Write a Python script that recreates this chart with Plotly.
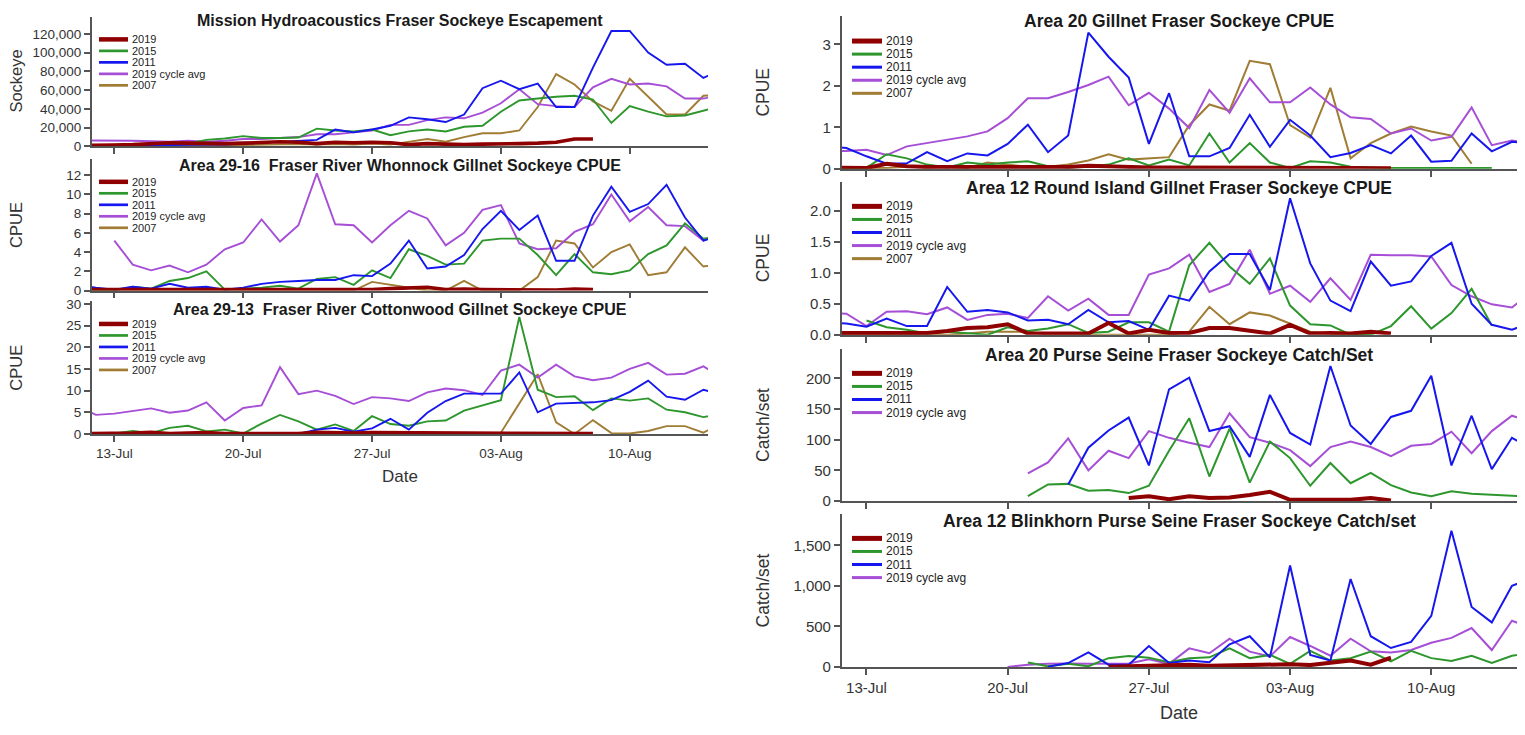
import plotly.graph_objects as go
import pandas as pd

N = None
# one value per day, 11-Jul .. 15-Aug (36 days)
dates = pd.date_range("2019-07-11", "2019-08-15", freq="D")

series_names = ["2019", "2015", "2011", "2019 cycle avg", "2007"]
tick_dates = ["2019-07-13", "2019-07-20", "2019-07-27", "2019-08-03", "2019-08-10"]
tick_labels = ["13-Jul", "20-Jul", "27-Jul", "03-Aug", "10-Aug"]

# ---- Mission Hydroacoustics escapement (sockeye) ----
mission_2019 = [1000, 1000, 1500, 2000, 3000, 4000, 3500, 3000, 3000, 3500,
                4000, 5000, 4500, 3000, 4500, 4000, 4500, 4000, 2000, 3000,
                2500, 2000, 2500, 2500, 3000, 3500, 4500, 8000, 8000, N,
                N, N, N, N, N, N]
mission_2015 = [1000, 1500, 2000, 2500, 2500, 2000, 3000, 7000, 8500, 11000,
                9000, 9000, 9500, 19000, 17000, 16000, 18000, 12000, 16000, 18000,
                16000, 21000, 22000, 37000, 49000, 51000, 53000, 54000, 50000, 25000,
                43000, 37000, 32000, 33000, 38000, 43000]
mission_2011 = [0, 500, 1000, 1000, 1500, 1500, 2000, 2000, 2000, 3000,
                4000, 5000, 6000, 7000, 18000, 15000, 18000, 22000, 31000, 29000,
                26000, 34000, 62000, 70000, 61000, 67000, 42000, 42000, 84000, 123000,
                123000, 100000, 87000, 88000, 73000, 82000]
mission_cycle = [6500, 6500, 6500, 6000, 5500, 5000, 6000, 5000, 6000, 8000,
                 8000, 9000, 10000, 13000, 13000, 15000, 17000, 23000, 23000, 28000,
                 31000, 30000, 36000, 46000, 61000, 45000, 43000, 42000, 63000, 72000,
                 66000, 67000, 64000, 51000, 51000, 55000]
mission_2007 = [0, 0, 0, 500, 1000, 1000, 500, 1000, 1000, 1500,
                2000, 2000, 2500, 2000, 2500, 2000, 3000, 2000, 5000, 8000,
                5000, 10000, 14000, 14000, 17000, 42000, 77000, 66000, 48000, 38000,
                72000, 53000, 34000, 34000, 54000, 55000]

# ---- Area 29-16 Whonnock gillnet CPUE ----
whonnock_2019 = [0.1, 0.1, 0.05, 0.05, 0.05, 0.05, 0.05, 0.05, 0.05, 0.05,
                 0.05, 0.05, 0.05, 0.05, 0.05, 0.05, 0.1, 0.2, 0.3, 0.35,
                 0.1, 0.15, 0.1, 0.1, 0.05, 0.05, 0.05, 0.15, 0.1, N,
                 N, N, N, N, N, N]
whonnock_2015 = [0.0, 0.0, 0.0, 0.4, 0.2, 1.0, 1.3, 2.0, 0.1, 0.2,
                 0.3, 0.5, 0.2, 1.2, 1.4, 0.6, 2.1, 1.3, 4.3, 3.6,
                 2.7, 2.8, 5.2, 5.4, 5.4, 3.7, 1.6, 3.8, 1.9, 1.7,
                 2.1, 3.8, 4.7, 7.0, 5.4, 5.7]
whonnock_2011 = [0.6, 0.3, 0.1, 0.4, 0.2, 0.7, 0.3, 0.4, 0.1, 0.3,
                 0.7, 0.9, 1.0, 1.1, 1.1, 1.6, 1.5, 2.8, 5.2, 2.3,
                 2.5, 3.7, 6.4, 8.3, 6.3, 7.8, 3.1, 3.1, 7.8, 10.8,
                 8.2, 9.0, 11.0, 7.6, 5.2, 5.8]
whonnock_cycle = [N, N, 5.2, 2.7, 2.1, 2.6, 1.9, 2.7, 4.3, 5.0,
                  7.4, 5.1, 6.8, 12.2, 6.9, 6.8, 5.0, 6.8, 8.3, 7.5,
                  4.7, 6.0, 8.4, 8.9, 4.9, 4.3, 4.4, 6.1, 6.9, 10.0,
                  7.2, 8.7, 6.8, 6.7, 5.2, 6.2]
whonnock_2007 = [0, 0, 0, 0, 0, 0, 0, 0, 0, 0,
                 0, 0, 0, 0, 0, 0, 0.9, 0.6, 0.3, 0.0,
                 0.0, 1.0, 0.0, 0.0, 0.0, 1.4, 5.2, 4.9, 2.4, 4.0,
                 4.8, 1.6, 1.9, 4.5, 2.5, 2.8]

# ---- Area 29-13 Cottonwood gillnet CPUE ----
cotton_2019 = [0.1, 0.1, 0.1, 0.2, 0.4, 0.1, 0.2, 0.3, 0.1, 0.1,
               0.1, 0.1, 0.1, 0.4, 0.2, 0.2, 0.3, 0.3, 0.1, 0.1,
               0.2, 0.1, 0.1, 0.1, 0.1, 0.1, 0.1, 0.1, 0.1, N,
               N, N, N, N, N, N]
cotton_2015 = [0.0, 0.0, 0.1, 0.7, 0.2, 1.4, 1.9, 0.6, 1.0, 0.1,
               2.4, 4.4, 2.9, 1.0, 2.2, 0.7, 4.1, 2.3, 1.9, 2.9,
               3.1, 5.4, 6.6, 7.8, 27.0, 10.2, 8.5, 8.7, 5.5, 8.2,
               7.7, 8.2, 5.6, 5.0, 3.9, 4.6]
cotton_2011 = [0, 0, 0, 0, 0, 0, 0, 0, 0, 0,
               0, 0, 0, 1.0, 1.4, 0.5, 1.3, 3.5, 1.0, 4.9,
               7.6, 9.3, 9.3, 9.3, 14.2, 5.0, 7.0, 7.2, 7.3, 7.8,
               9.7, 12.3, 8.6, 7.9, 10.2, 9.0]
cotton_cycle = [6.5, 4.4, 4.7, 5.3, 5.9, 4.9, 5.4, 7.3, 3.1, 6.0,
                6.6, 15.4, 9.2, 10.0, 8.8, 6.9, 8.5, 8.2, 7.6, 9.6,
                10.5, 10.1, 9.0, 14.6, 16.0, 13.0, 16.0, 13.3, 12.4, 13.0,
                15.0, 16.4, 13.7, 13.9, 15.6, 13.0]
cotton_2007 = [0, 0, 0, 0, 0, 0, 0, 0, 0, 0,
               0, 0, 0, 0, 0, 0, 0, 0, 0, 0,
               0, 0, 0, 0.3, 7.0, 13.8, 2.7, 0.0, 3.2, 0.2,
               0.1, 0.7, 1.8, 1.8, 0.3, 2.5]

# ---- Area 20 gillnet CPUE ----
a20g_2019 = [0.03, 0.03, 0.02, 0.12, 0.06, 0.04, 0.04, 0.03, 0.04, 0.03,
             0.03, 0.04, 0.04, 0.07, 0.05, 0.03, 0.03, 0.03, 0.03, 0.04,
             0.03, 0.03, 0.02, 0.02, 0.02, 0.02, 0.02, 0.01, 0.01, N,
             N, N, N, N, N, N]
a20g_2015 = [0.0, 0.0, 0.02, 0.35, 0.25, 0.1, 0.03, 0.15, 0.1, 0.15,
             0.18, 0.06, 0.03, 0.05, 0.1, 0.25, 0.08, 0.22, 0.08, 0.85,
             0.15, 0.62, 0.15, 0.02, 0.18, 0.15, 0.05, 0.03, 0.02, 0.02,
             0.02, 0.02, 0.02, 0.02, N, N]
a20g_2011 = [0.55, 0.5, 0.3, 0.12, 0.13, 0.4, 0.18, 0.37, 0.32, 0.6,
             1.06, 0.4, 0.8, 3.28, 2.7, 2.2, 0.6, 1.82, 0.3, 0.3,
             0.5, 1.3, 0.53, 1.18, 0.8, 0.28, 0.38, 0.57, 0.37, 0.8,
             0.17, 0.19, 0.85, 0.42, 0.65, 0.6]
a20g_cycle = [0.43, 0.43, 0.46, 0.33, 0.54, 0.62, 0.7, 0.78, 0.9, 1.22,
              1.7, 1.7, 1.85, 2.02, 2.22, 1.53, 1.83, 1.45, 0.98, 1.9,
              1.35, 2.18, 1.6, 1.6, 1.96, 1.55, 1.24, 1.2, 0.85, 0.97,
              0.68, 0.77, 1.48, 0.57, 0.68, 0.6]
a20g_2007 = [0, 0, 0.02, 0.02, 0.05, 0.03, 0.05, 0.02, 0.15, 0.1,
             0.05, 0.05, 0.1, 0.2, 0.35, 0.22, 0.25, 0.28, 1.05, 1.55,
             1.4, 2.6, 2.52, 1.05, 0.75, 1.95, 0.25, 0.62, 0.85, 1.02,
             0.9, 0.8, 0.12, N, N, N]

# ---- Area 12 Round Island gillnet CPUE ----
a12g_2019 = [0.03, 0.03, 0.02, 0.03, 0.03, 0.03, 0.06, 0.11, 0.12, 0.17,
             0.02, 0.02, 0.02, 0.02, 0.19, 0.02, 0.08, 0.03, 0.03, 0.11,
             0.11, 0.06, 0.02, 0.16, 0.02, 0.03, 0.02, 0.05, 0.02, N,
             N, N, N, N, N, N]
a12g_2015 = [N, N, 0.23, 0.12, 0.08, 0.02, 0.05, 0.03, 0.0, 0.12,
             0.06, 0.1, 0.17, 0.03, 0.05, 0.2, 0.2, 0.05, 1.12, 1.48,
             1.1, 0.82, 1.23, 0.47, 0.17, 0.15, 0.0, 0.0, 0.14, 0.46,
             0.1, 0.35, 0.74, 0.15, N, N]
a12g_2011 = [0.2, 0.18, 0.13, 0.26, 0.14, 0.14, 0.77, 0.37, 0.4, 0.36,
             0.23, 0.24, 0.17, 0.4, 0.2, 0.22, 0.08, 0.63, 0.55, 1.02,
             1.3, 1.3, 0.72, 2.2, 1.15, 0.55, 0.38, 1.18, 0.79, 0.86,
             1.27, 1.48, 0.5, 0.16, 0.08, 0.2]
a12g_cycle = [0.35, 0.34, 0.14, 0.37, 0.38, 0.33, 0.44, 0.24, 0.32, 0.34,
              0.27, 0.62, 0.39, 0.58, 0.32, 0.32, 0.97, 1.07, 1.29, 0.69,
              0.82, 1.37, 0.66, 0.79, 0.53, 0.91, 0.56, 1.29, 1.28, 1.28,
              1.26, 0.8, 0.62, 0.49, 0.44, 0.7]
a12g_2007 = [0, 0, 0, 0, 0, 0, 0, 0.02, 0.05, 0.05,
             0.05, 0.0, 0.0, 0.0, 0.0, 0.0, 0.0, 0.0, 0.05, 0.45,
             0.17, 0.36, 0.31, 0.18, 0.05, 0.02, 0.0, 0.0, N, N,
             N, N, N, N, N, N]

# ---- Area 20 purse seine catch/set ----
a20s_2019 = [N, N, N, N, N, N, N, N, N, N,
             N, N, N, N, N, 5, 8, 3, 8, 5,
             6, 10, 15, 2, 2, 2, 2, 5, 1, N,
             N, N, N, N, N, N]
a20s_2015 = [N, N, N, N, N, N, N, N, N, N,
             8, 27, 28, 17, 18, 13, 25, 82, 135, 40,
             118, 30, 97, 70, 25, 62, 29, 46, 26, 14,
             8, 16, 12, 10, 8, 7]
a20s_2011 = [N, N, N, N, N, N, N, N, N, N,
             N, N, 27, 87, 115, 136, 58, 182, 201, 114,
             122, 72, 173, 111, 92, 220, 123, 93, 137, 147,
             204, 58, 139, 52, 103, 85]
a20s_cycle = [N, N, N, N, N, N, N, N, N, N,
              45, 63, 102, 50, 82, 70, 114, 103, 95, 88,
              143, 104, 95, 83, 57, 88, 97, 88, 73, 90,
              93, 113, 78, 114, 139, 128]

# ---- Area 12 Blinkhorn purse seine catch/set ----
a12s_2019 = [N, N, N, N, N, N, N, N, N, N,
             N, N, N, N, 5, 10, 10, 15, 30, 15,
             20, 15, 20, 35, 25, 50, 80, 30, 115, N,
             N, N, N, N, N, N]
a12s_2015 = [N, N, N, N, N, N, N, N, N, N,
             55, 10, 40, 10, 110, 135, 115, 60, 110, 120,
             230, 110, 150, 40, 200, 80, 110, 190, 70, 200,
             110, 75, 140, 50, 140, 175]
a12s_2011 = [N, N, N, N, N, N, N, N, N, N,
             N, 5, 50, 180, 30, 30, 260, 50, 80, 60,
             280, 380, 120, 1250, 150, 80, 1085, 380, 235, 310,
             630, 1680, 740, 550, 1000, 1100]
a12s_cycle = [N, N, N, N, N, N, N, N, N, 0,
              30, 40, 45, 40, 45, 45, 95, 40, 230, 170,
              350, 190, 130, 370, 260, 140, 350, 195, 180, 210,
              300, 360, 480, 210, 570, 480]

# ---------------- styling / layout ----------------
W, H = 1525, 735
FONT = "Liberation Sans, Arial, Helvetica, sans-serif"
colors = {"2019": "#8f0000", "2015": "#2d962d", "2011": "#1616ee",
          "2019 cycle avg": "#a64fd6", "2007": "#a07c35"}
draw_order = ["2007", "2019 cycle avg", "2015", "2011", "2019"]


def fx(px):
    return px / W


def fy(py):
    return 1 - py / H


cols = {
    "L": dict(x0=91.7, x1=708.0, title=16, tick=13.5, leg=11, axt=16.5, lsp=11.7, lfirst=23,
              lx0=99, lx1=128, ltx=130, ytx=16, lw_main=3.6, lw=1.9, klw_main=4.5, klw=2.7),
    "R": dict(x0=841.7, x1=1517.0, title=17.5, tick=15, leg=12, axt=17.5, lsp=13.3, lfirst=25,
              lx0=852, lx1=882, ltx=884, ytx=763, lw_main=4, lw=2, klw_main=5, klw=3),
}

panels = [
    dict(col="L", top=12, zero=144.0, ref=(29.3, 120000), dtick=20000, fmt=",d",
         title="Mission Hydroacoustics Fraser Sockeye Escapement", ty=16, ytitle="Sockeye",
         data={"2019": mission_2019, "2015": mission_2015, "2011": mission_2011,
               "2019 cycle avg": mission_cycle, "2007": mission_2007}, labels=False),
    dict(col="L", top=157, zero=290.7, ref=(173.3, 12), dtick=2, fmt="d",
         title="Area 29-16 \u00a0Fraser River Whonnock Gillnet Sockeye CPUE", ty=163, ytitle="CPUE",
         data={"2019": whonnock_2019, "2015": whonnock_2015, "2011": whonnock_2011,
               "2019 cycle avg": whonnock_cycle, "2007": whonnock_2007}, labels=False),
    dict(col="L", top=301.7, zero=436.7, ref=(304.3, 30), dtick=5, fmt="d",
         title="Area 29-13 \u00a0Fraser River Cottonwood Gillnet Sockeye CPUE", ty=310, ytitle="CPUE",
         data={"2019": cotton_2019, "2015": cotton_2015, "2011": cotton_2011,
               "2019 cycle avg": cotton_cycle, "2007": cotton_2007}, labels=True, xt=480),
    dict(col="R", top=11.7, zero=166.7, ref=(40, 3), dtick=1, fmt="d",
         title="Area 20 Gillnet Fraser Sockeye CPUE", ty=16.7, ytitle="CPUE",
         data={"2019": a20g_2019, "2015": a20g_2015, "2011": a20g_2011,
               "2019 cycle avg": a20g_cycle, "2007": a20g_2007}, labels=False),
    dict(col="R", top=180, zero=335.7, ref=(209.3, 2.0), dtick=0.5, fmt=".1f",
         title="Area 12 Round Island Gillnet Fraser Sockeye CPUE", ty=186.7, ytitle="CPUE",
         data={"2019": a12g_2019, "2015": a12g_2015, "2011": a12g_2011,
               "2019 cycle avg": a12g_cycle, "2007": a12g_2007}, labels=False),
    dict(col="R", top=350, zero=505, ref=(380, 200), dtick=50, fmt="d",
         title="Area 20 Purse Seine Fraser Sockeye Catch/Set", ty=356.7, ytitle="Catch/set",
         data={"2019": a20s_2019, "2015": a20s_2015, "2011": a20s_2011,
               "2019 cycle avg": a20s_cycle}, labels=False),
    dict(col="R", top=518, zero=674, ref=(550, 1500), dtick=500, fmt=",d",
         title="Area 12 Blinkhorn Purse Seine Fraser Sockeye Catch/set", ty=525, ytitle="Catch/set",
         data={"2019": a12s_2019, "2015": a12s_2015, "2011": a12s_2011,
               "2019 cycle avg": a12s_cycle}, labels=True, xt=721),
]

fig = go.Figure()
layout = dict(width=W, height=H, margin=dict(l=0, r=0, t=0, b=0),
              paper_bgcolor="white", plot_bgcolor="white", showlegend=False,
              font=dict(family=FONT, color="#333333"))
annotations = []
shapes = []

for i, p in enumerate(panels, start=1):
    c = cols[p["col"]]
    xa = "x" if i == 1 else f"x{i}"
    ya = "y" if i == 1 else f"y{i}"
    ppu = (p["zero"] - p["ref"][0]) / p["ref"][1]
    ymax = (p["zero"] - p["top"]) / ppu

    for name in draw_order:
        if name not in p["data"]:
            continue
        fig.add_trace(go.Scatter(
            x=dates, y=p["data"][name], mode="lines", name=name, xaxis=xa, yaxis=ya,
            line=dict(color=colors[name], width=c["lw_main"] if name == "2019" else c["lw"]),
            hoverinfo="skip", connectgaps=False))

    layout["xaxis" if i == 1 else f"xaxis{i}"] = dict(
        domain=[fx(c["x0"]), fx(c["x1"])], anchor=ya, type="date",
        range=["2019-07-11 18:30", "2019-08-14 06:00"],
        tickvals=tick_dates, ticktext=tick_labels, showticklabels=p["labels"],
        ticks="outside", ticklen=6, tickwidth=1.5, tickcolor="#555555",
        showline=True, linecolor="#555555", linewidth=1.5,
        showgrid=False, zeroline=False, fixedrange=True,
        tickfont=dict(size=c["tick"], color="#333333", family=FONT))
    layout["yaxis" if i == 1 else f"yaxis{i}"] = dict(
        domain=[fy(p["zero"]), fy(p["top"])], anchor=xa, range=[0, ymax],
        dtick=p["dtick"], tick0=0, tickformat=p["fmt"],
        ticks="outside", ticklen=6, tickwidth=1.5, tickcolor="#555555",
        showline=True, linecolor="#555555", linewidth=1.5,
        showgrid=False, zeroline=False, fixedrange=True,
        tickfont=dict(size=c["tick"], color="#333333", family=FONT))

    # panel title
    annotations.append(dict(
        text=f"<b>{p['title']}</b>", x=fx((c["x0"] + c["x1"]) / 2), y=fy(p["ty"]),
        xref="paper", yref="paper", xanchor="center", yanchor="middle", showarrow=False,
        font=dict(size=c["title"], color="#1a1a1a", family=FONT)))
    # y-axis title
    annotations.append(dict(
        text=p["ytitle"], x=fx(c["ytx"]), y=fy((p["top"] + p["zero"]) / 2),
        xref="paper", yref="paper", xanchor="center", yanchor="middle", showarrow=False,
        textangle=-90, font=dict(size=c["axt"], color="#333333", family=FONT)))
    # x-axis title
    if p["labels"]:
        annotations.append(dict(
            text="Date", x=fx((c["x0"] + c["x1"]) / 2), y=fy(p["xt"]),
            xref="paper", yref="paper", xanchor="center", yanchor="middle", showarrow=False,
            font=dict(size=c["axt"] + 0.5, color="#333333", family=FONT)))

    # per-panel legend
    row = 0
    for name in series_names:
        if name not in p["data"]:
            continue
        ly = p["top"] + c["lfirst"] + row * c["lsp"]
        shapes.append(dict(
            type="line", xref="paper", yref="paper",
            x0=fx(c["lx0"]), x1=fx(c["lx1"]), y0=fy(ly), y1=fy(ly),
            line=dict(color=colors[name], width=c["klw_main"] if name == "2019" else c["klw"])))
        annotations.append(dict(
            text=name, x=fx(c["ltx"]), y=fy(ly), xref="paper", yref="paper",
            xanchor="left", yanchor="middle", showarrow=False,
            font=dict(size=c["leg"], color="#222222", family=FONT)))
        row += 1

layout["annotations"] = annotations
layout["shapes"] = shapes
fig.update_layout(**layout)
# remove the default page margin so the figure sits at the window's top-left corner
fig.write_html("out.html", config={"displayModeBar": False},
               post_script="document.body.style.margin='0';document.body.style.padding='0';")
